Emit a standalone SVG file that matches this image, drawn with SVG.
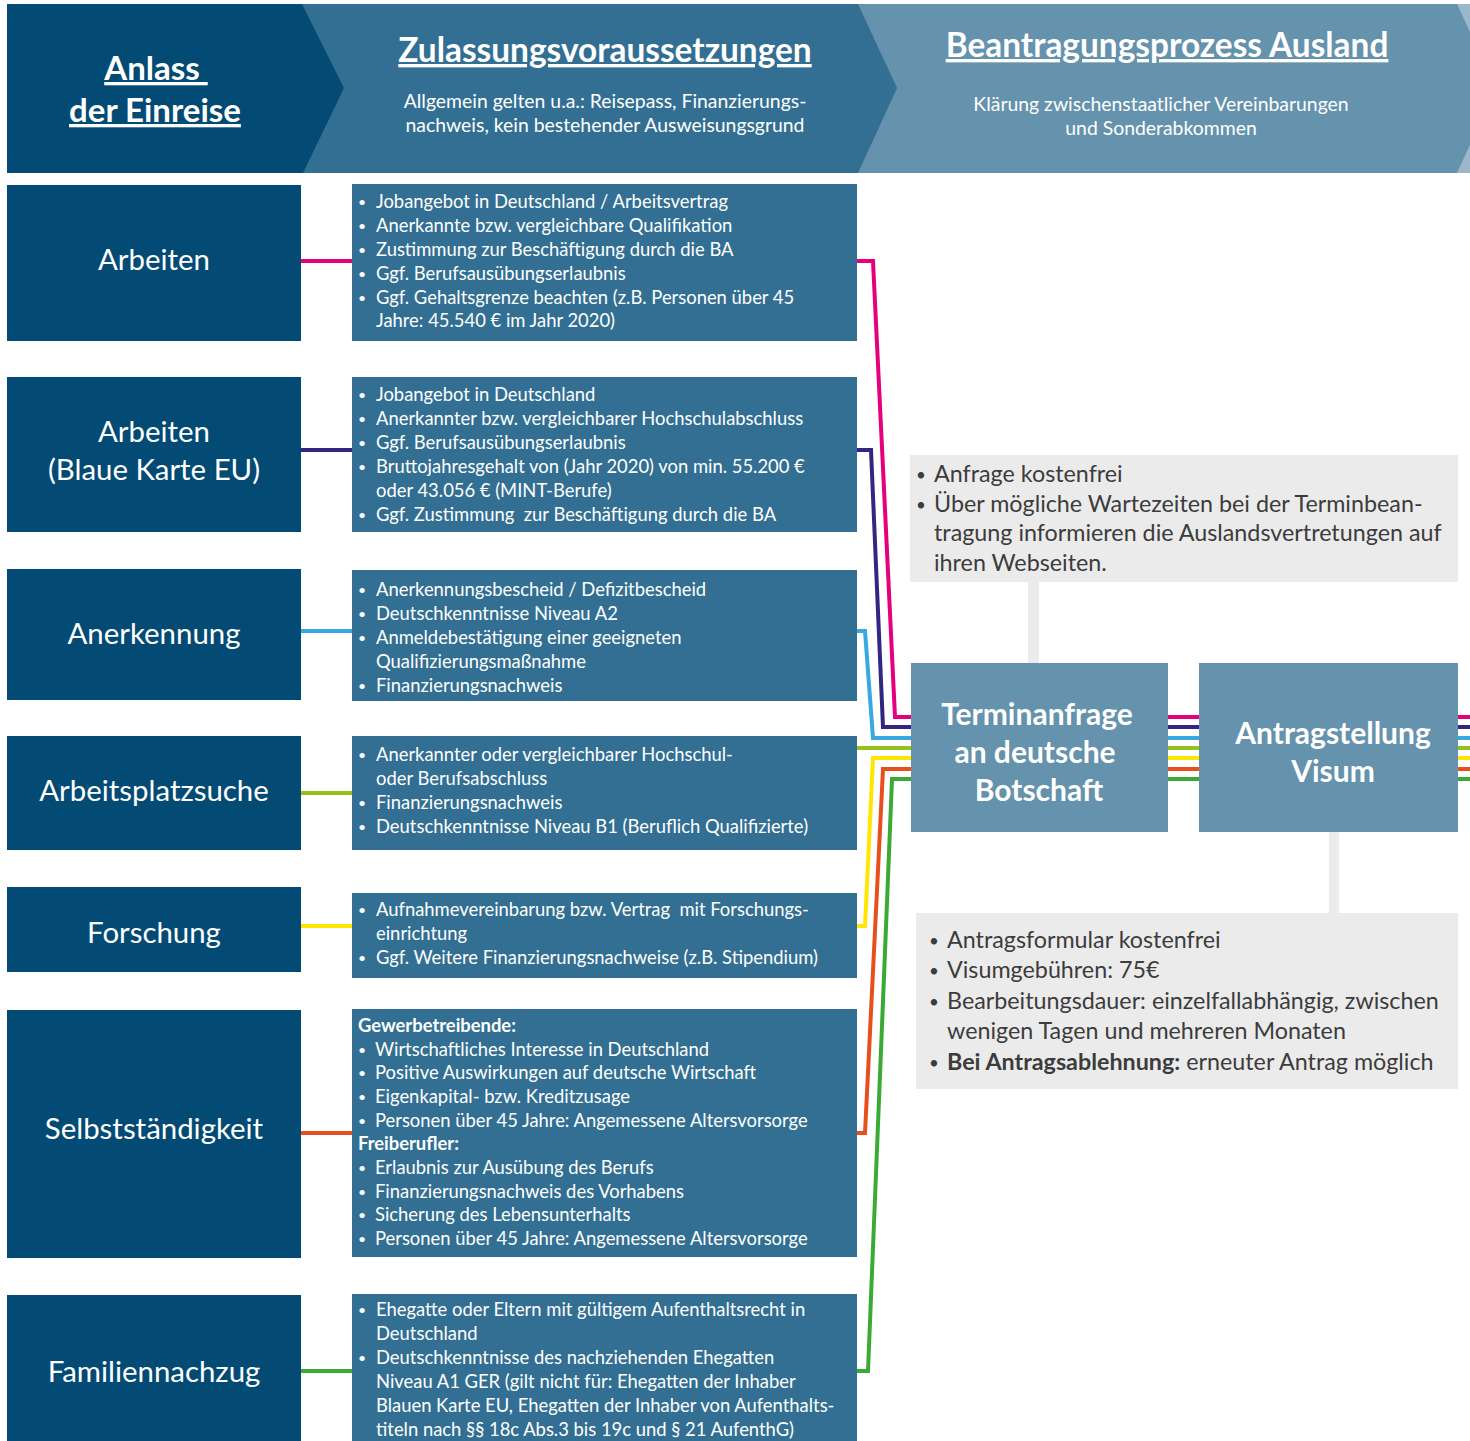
<svg xmlns="http://www.w3.org/2000/svg" width="1470" height="1441" viewBox="0 0 1470 1441">
<style>
.f{font-family:Lato,"Liberation Sans",sans-serif}
.dark{fill:#034b74}
.mid{fill:#326f93}
.light{fill:#6592ac}
.gray{fill:#ebebeb}
.hd{font-family:Lato,"Liberation Sans",sans-serif;font-weight:700;fill:#fff;text-decoration:underline;text-anchor:middle}
.hs{font-family:Lato,"Liberation Sans",sans-serif;font-size:19.4px;fill:#fff;text-anchor:middle}
.nl{font-family:Lato,"Liberation Sans",sans-serif;font-size:29.4px;fill:#fff;text-anchor:middle}
.nb{font-family:Lato,"Liberation Sans",sans-serif;font-size:30px;font-weight:700;fill:#fff;text-anchor:middle}
.t{font-family:Lato,"Liberation Sans",sans-serif;font-size:18.4px;fill:#fff;white-space:pre}
.tb{font-family:Lato,"Liberation Sans",sans-serif;font-size:18.4px;font-weight:700;fill:#fff}
.bu{font-family:Lato,"Liberation Sans",sans-serif;font-size:14px;fill:#fff}
.g{font-family:Lato,"Liberation Sans",sans-serif;font-size:23.3px;fill:#3c3c3c}
.gbu{font-family:Lato,"Liberation Sans",sans-serif;font-size:17px;fill:#3c3c3c}
.c{fill:none;stroke-width:4;stroke-linejoin:miter}
</style>

<g id="header">
  <rect x="1430" y="4" width="40" height="169" fill="#9bb7ca"/>
  <polygon class="light" points="850,4 1457,4 1496,88 1457,173 850,173"/>
  <polygon fill="#336f93" points="280,4 858,4 897,88 858,173 280,173"/>
  <polygon class="dark" points="7,4 302,4 344,88 303,173 7,173"/>
  <text class="hd" x="156" y="80" font-size="33" xml:space="preserve">Anlass </text>
  <text class="hd" x="155" y="122" font-size="33">der Einreise</text>
  <text class="hd" x="605" y="62" font-size="33.4">Zulassungsvoraussetzungen</text>
  <text class="hs" x="605" y="108">Allgemein gelten u.a.: Reisepass, Finanzierungs-</text>
  <text class="hs" x="605" y="132">nachweis, kein bestehender Ausweisungsgrund</text>
  <text class="hd" x="1167" y="57" font-size="33.4">Beantragungsprozess Ausland</text>
  <text class="hs" x="1161" y="111" fill="#eef3f6">Klärung zwischenstaatlicher Vereinbarungen</text>
  <text class="hs" x="1161" y="135" fill="#eef3f6">und Sonderabkommen</text>
</g>

<g id="connectors">
  <rect class="gray" x="1028" y="582" width="11" height="81"/>
  <rect class="gray" x="1329" y="832" width="10" height="81"/>
  <g stroke="#e5007d">
    <path class="c" d="M301,261 H352"/>
    <path class="c" d="M857,261 H873 L895,717 H911"/>
    <path class="c" d="M1168,717 H1199 M1458,717 H1470"/>
  </g>
  <g stroke="#312682">
    <path class="c" d="M301,450 H352"/>
    <path class="c" d="M857,450 H871 L883,727 H911"/>
    <path class="c" d="M1168,727 H1199 M1458,727 H1470"/>
  </g>
  <g stroke="#36a9e1">
    <path class="c" d="M301,631 H352"/>
    <path class="c" d="M857,631 H865 L873,738 H911"/>
    <path class="c" d="M1168,738 H1199 M1458,738 H1470"/>
  </g>
  <g stroke="#95c11f">
    <path class="c" d="M301,793 H352"/>
    <path class="c" d="M857,748 H911"/>
    <path class="c" d="M1168,748 H1199 M1458,748 H1470"/>
  </g>
  <g stroke="#ffe600">
    <path class="c" d="M301,926 H352"/>
    <path class="c" d="M857,926 H865 L873,758 H911"/>
    <path class="c" d="M1168,758 H1199 M1458,758 H1470"/>
  </g>
  <g stroke="#e7501d">
    <path class="c" d="M301,1133 H352"/>
    <path class="c" d="M857,1133 H865 L883,769 H911"/>
    <path class="c" d="M1168,769 H1199 M1458,769 H1470"/>
  </g>
  <g stroke="#3aaa35">
    <path class="c" d="M301,1371 H352"/>
    <path class="c" d="M857,1371 H868 L892,779 H911"/>
    <path class="c" d="M1168,779 H1199 M1458,779 H1470"/>
  </g>
</g>

<g id="node-arbeiten">
  <rect class="dark" x="7" y="185" width="294" height="156"/>
  <text class="nl" x="154" y="270">Arbeiten</text>
</g>
<g id="node-blaue-karte">
  <rect class="dark" x="7" y="377" width="294" height="155"/>
  <text class="nl" x="154" y="442">Arbeiten</text>
  <text class="nl" x="154" y="480">(Blaue Karte EU)</text>
</g>
<g id="node-anerkennung">
  <rect class="dark" x="7" y="569" width="294" height="131"/>
  <text class="nl" x="154" y="644">Anerkennung</text>
</g>
<g id="node-arbeitsplatzsuche">
  <rect class="dark" x="7" y="736" width="294" height="114"/>
  <text class="nl" x="154" y="801">Arbeitsplatzsuche</text>
</g>
<g id="node-forschung">
  <rect class="dark" x="7" y="887" width="294" height="85"/>
  <text class="nl" x="154" y="943">Forschung</text>
</g>
<g id="node-selbststaendigkeit">
  <rect class="dark" x="7" y="1010" width="294" height="248"/>
  <text class="nl" x="154" y="1139">Selbstständigkeit</text>
</g>
<g id="node-familiennachzug">
  <rect class="dark" x="7" y="1295" width="294" height="146"/>
  <text class="nl" x="154" y="1382">Familiennachzug</text>
</g>

<g id="req-arbeiten">
  <rect class="mid" x="352" y="184" width="505" height="157"/>
  <text class="bu" x="358" y="207">•</text><text class="t" x="376" y="208">Jobangebot in Deutschland / Arbeitsvertrag</text>
  <text class="bu" x="358" y="231">•</text><text class="t" x="376" y="232">Anerkannte bzw. vergleichbare Qualifikation</text>
  <text class="bu" x="358" y="255">•</text><text class="t" x="376" y="256">Zustimmung zur Beschäftigung durch die BA</text>
  <text class="bu" x="358" y="279">•</text><text class="t" x="376" y="280">Ggf. Berufsausübungserlaubnis</text>
  <text class="bu" x="358" y="303">•</text><text class="t" x="376" y="304">Ggf. Gehaltsgrenze beachten (z.B. Personen über 45</text>
  <text class="t" x="376" y="327">Jahre: 45.540 € im Jahr 2020)</text>
</g>
<g id="req-blaue-karte">
  <rect class="mid" x="352" y="377" width="505" height="155"/>
  <text class="bu" x="358" y="400">•</text><text class="t" x="376" y="401">Jobangebot in Deutschland</text>
  <text class="bu" x="358" y="424">•</text><text class="t" x="376" y="425">Anerkannter bzw. vergleichbarer Hochschulabschluss</text>
  <text class="bu" x="358" y="448">•</text><text class="t" x="376" y="449">Ggf. Berufsausübungserlaubnis</text>
  <text class="bu" x="358" y="472">•</text><text class="t" x="376" y="473">Bruttojahresgehalt von (Jahr 2020) von min. 55.200 €</text>
  <text class="t" x="376" y="497">oder 43.056 € (MINT-Berufe)</text>
  <text class="bu" x="358" y="520">•</text><text class="t" x="376" y="521">Ggf. Zustimmung  zur Beschäftigung durch die BA</text>
</g>
<g id="req-anerkennung">
  <rect class="mid" x="352" y="570" width="505" height="131"/>
  <text class="bu" x="358" y="595">•</text><text class="t" x="376" y="596">Anerkennungsbescheid / Defizitbescheid</text>
  <text class="bu" x="358" y="619">•</text><text class="t" x="376" y="620">Deutschkenntnisse Niveau A2</text>
  <text class="bu" x="358" y="643">•</text><text class="t" x="376" y="644">Anmeldebestätigung einer geeigneten</text>
  <text class="t" x="376" y="668">Qualifizierungsmaßnahme</text>
  <text class="bu" x="358" y="691">•</text><text class="t" x="376" y="692">Finanzierungsnachweis</text>
</g>
<g id="req-arbeitsplatzsuche">
  <rect class="mid" x="352" y="736" width="505" height="114"/>
  <text class="bu" x="358" y="760">•</text><text class="t" x="376" y="761">Anerkannter oder vergleichbarer Hochschul-</text>
  <text class="t" x="376" y="785">oder Berufsabschluss</text>
  <text class="bu" x="358" y="808">•</text><text class="t" x="376" y="809">Finanzierungsnachweis</text>
  <text class="bu" x="358" y="832">•</text><text class="t" x="376" y="833">Deutschkenntnisse Niveau B1 (Beruflich Qualifizierte)</text>
</g>
<g id="req-forschung">
  <rect class="mid" x="352" y="893" width="505" height="85"/>
  <text class="bu" x="358" y="915">•</text><text class="t" x="376" y="916">Aufnahmevereinbarung bzw. Vertrag  mit Forschungs-</text>
  <text class="t" x="376" y="940">einrichtung</text>
  <text class="bu" x="358" y="963">•</text><text class="t" x="376" y="964">Ggf. Weitere Finanzierungsnachweise (z.B. Stipendium)</text>
</g>
<g id="req-selbststaendigkeit">
  <rect class="mid" x="352" y="1009" width="505" height="248"/>
  <text class="tb" x="358" y="1032">Gewerbetreibende:</text>
  <text class="bu" x="358" y="1055">•</text><text class="t" x="375" y="1056">Wirtschaftliches Interesse in Deutschland</text>
  <text class="bu" x="358" y="1078">•</text><text class="t" x="375" y="1079">Positive Auswirkungen auf deutsche Wirtschaft</text>
  <text class="bu" x="358" y="1102">•</text><text class="t" x="375" y="1103">Eigenkapital- bzw. Kreditzusage</text>
  <text class="bu" x="358" y="1126">•</text><text class="t" x="375" y="1127">Personen über 45 Jahre: Angemessene Altersvorsorge</text>
  <text class="tb" x="358" y="1150">Freiberufler:</text>
  <text class="bu" x="358" y="1173">•</text><text class="t" x="375" y="1174">Erlaubnis zur Ausübung des Berufs</text>
  <text class="bu" x="358" y="1197">•</text><text class="t" x="375" y="1198">Finanzierungsnachweis des Vorhabens</text>
  <text class="bu" x="358" y="1220">•</text><text class="t" x="375" y="1221">Sicherung des Lebensunterhalts</text>
  <text class="bu" x="358" y="1244">•</text><text class="t" x="375" y="1245">Personen über 45 Jahre: Angemessene Altersvorsorge</text>
</g>
<g id="req-familiennachzug">
  <rect class="mid" x="352" y="1294" width="505" height="147"/>
  <text class="bu" x="358" y="1315">•</text><text class="t" x="376" y="1316">Ehegatte oder Eltern mit gültigem Aufenthaltsrecht in</text>
  <text class="t" x="376" y="1340">Deutschland</text>
  <text class="bu" x="358" y="1363">•</text><text class="t" x="376" y="1364">Deutschkenntnisse des nachziehenden Ehegatten</text>
  <text class="t" x="376" y="1388">Niveau A1 GER (gilt nicht für: Ehegatten der Inhaber</text>
  <text class="t" x="376" y="1412">Blauen Karte EU, Ehegatten der Inhaber von Aufenthalts-</text>
  <text class="t" x="376" y="1436">titeln nach §§ 18c Abs.3 bis 19c und § 21 AufenthG)</text>
</g>

<g id="note-termin">
  <rect class="gray" x="910" y="455" width="548" height="127"/>
  <text class="gbu" x="916" y="481">•</text><text class="g" x="934" y="482">Anfrage kostenfrei</text>
  <text class="gbu" x="916" y="511">•</text><text class="g" x="934" y="512">Über mögliche Wartezeiten bei der Terminbean-</text>
  <text class="g" x="934" y="541">tragung informieren die Auslandsvertretungen auf</text>
  <text class="g" x="934" y="571">ihren Webseiten.</text>
</g>
<g id="node-terminanfrage">
  <rect class="light" x="911" y="663" width="257" height="169"/>
  <text class="nb" x="1037" y="725">Terminanfrage</text>
  <text class="nb" x="1035" y="763">an deutsche</text>
  <text class="nb" x="1039" y="801">Botschaft</text>
</g>
<g id="node-antragstellung">
  <rect class="light" x="1199" y="663" width="259" height="169"/>
  <text class="nb" x="1333" y="744">Antragstellung</text>
  <text class="nb" x="1333" y="782">Visum</text>
</g>
<g id="note-antrag">
  <rect class="gray" x="916" y="913" width="542" height="176"/>
  <text class="gbu" x="929" y="947">•</text><text class="g" x="947" y="948">Antragsformular kostenfrei</text>
  <text class="gbu" x="929" y="977">•</text><text class="g" x="947" y="978">Visumgebühren: 75€</text>
  <text class="gbu" x="929" y="1008">•</text><text class="g" x="947" y="1009">Bearbeitungsdauer: einzelfallabhängig, zwischen</text>
  <text class="g" x="947" y="1039">wenigen Tagen und mehreren Monaten</text>
  <text class="gbu" x="929" y="1069">•</text><text class="g" x="947" y="1070"><tspan font-weight="700">Bei Antragsablehnung:</tspan> erneuter Antrag möglich</text>
</g>
</svg>
